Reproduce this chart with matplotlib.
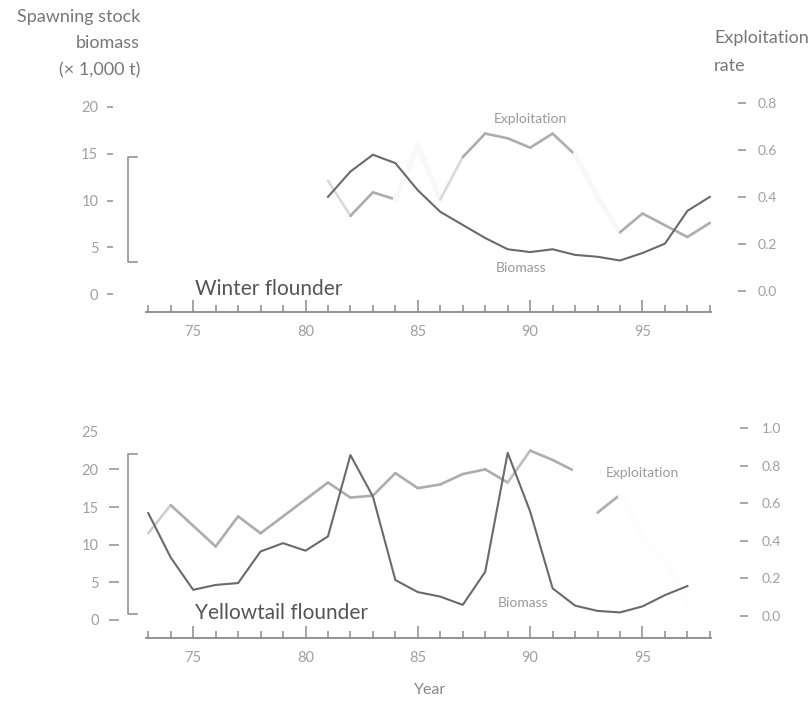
import numpy as np
import matplotlib
matplotlib.use("Agg")
import matplotlib.pyplot as plt
from matplotlib.collections import LineCollection
from matplotlib.ticker import MultipleLocator, FixedLocator
import matplotlib.transforms as mtransforms

plt.rcParams['font.family'] = ['Lato', 'DejaVu Sans']

# ---- Winter flounder ----
years_winter = [81, 82, 83, 84, 85, 86, 87, 88, 89, 90, 91, 92, 93, 94, 95, 96, 97, 98]
biomass_winter = [10.4, 13.1, 14.9, 14.0, 11.1, 8.8, 7.4, 6.0, 4.8, 4.5, 4.8, 4.2, 4.0, 3.6, 4.4, 5.4, 8.9, 10.4]
exploit_winter = [0.47, 0.32, 0.42, 0.39, 0.62, 0.39, 0.57, 0.67, 0.65, 0.61, 0.67, 0.58, 0.40, 0.25, 0.33, 0.28, 0.23, 0.29]

# ---- Yellowtail flounder ----
years_yellow = list(range(73, 98))
biomass_yellow = [14.2, 8.3, 4.0, 4.65, 4.9, 9.1, 10.2, 9.2, 11.1, 21.9, 16.4, 5.3, 3.7, 3.1, 2.0,
                  6.4, 22.2, 14.4, 4.2, 1.9, 1.2, 1.0, 1.8, 3.3, 4.5]
exploit_yellow = [0.44, 0.59, 0.48, 0.37, 0.53, 0.44, 0.53, 0.62, 0.71, 0.63, 0.64, 0.76, 0.68, 0.70,
                  0.755, 0.78, 0.71, 0.88, 0.83, 0.77, 0.55, 0.645, 0.42, 0.30, 0.06]

# print weight of each exploitation segment (1 = full ink, lower = worn print)
ink_winter = [0.45, 1, 1, 0.08, 0.08, 0.45, 1, 1, 1, 1, 1, 0.08, 0.08, 1, 1, 1, 1]
ink_yellow = [0.6, 1, 1, 1, 1, 1, 1, 1, 1, 1, 1, 1, 1, 1, 1, 1, 0.8, 1, 1, 0.0, 1, 0.03, 0.03, 0.03]

x_ticks = [75, 80, 85, 90, 95]
x_labels = ['75', '80', '85', '90', '95']

W, H = 811, 701
fig = plt.figure(figsize=(W / 100, H / 100), dpi=100)

BIO_C = '#6a6a6a'
EXP_C = np.array([0.68, 0.68, 0.68])
PAPER = np.array([1.0, 1.0, 1.0])
TICK_C = '#a0a0a0'
AX_C = '#8a8a8a'


def px_rect(left, top, right, bottom):
    return [left / W, 1 - bottom / H, (right - left) / W, (bottom - top) / H]


def exploit_line(ax, years, values, ink, lw=1.9):
    pts = np.column_stack([years, values])
    segs = [pts[i:i + 2] for i in range(len(pts) - 1)]
    cols = [tuple(PAPER + (EXP_C - PAPER) * k) for k in ink]
    widths = [lw if k > 0.3 else lw + 2.0 for k in ink]
    lc = LineCollection(segs, colors=cols, linewidths=widths, capstyle='round', joinstyle='round')
    ax.add_collection(lc)


def style_panel(ax, ax2, left_ticks, right_ticks, lpos, rpos):
    for s in ['top', 'right']:
        ax.spines[s].set_visible(False)
    ax.spines['left'].set_position(('outward', lpos[0]))
    ax.spines['left'].set_visible(False)
    ax.spines['bottom'].set_color(AX_C)
    ax.spines['bottom'].set_linewidth(1.3)
    ax.set_xlim(72.9, 98.05)
    ax.xaxis.set_major_locator(FixedLocator(x_ticks))
    ax.set_xticklabels(x_labels)
    ax.xaxis.set_minor_locator(MultipleLocator(1))
    ax.tick_params(axis='x', which='major', direction='in', length=9, width=1.1,
                   color=AX_C, labelcolor=TICK_C, labelsize=10.5, pad=9)
    ax.tick_params(axis='x', which='minor', direction='in', length=5, width=1.1, color=AX_C)
    ax.set_yticks(left_ticks)
    ax.set_yticklabels([str(v) for v in left_ticks])
    ax.tick_params(axis='y', direction='out', length=lpos[1], width=1.3, color=TICK_C,
                   labelcolor=TICK_C, labelsize=10.5, pad=lpos[2])

    for s in ['top', 'left', 'bottom']:
        ax2.spines[s].set_visible(False)
    ax2.spines['right'].set_position(('outward', rpos[0]))
    ax2.spines['right'].set_visible(False)
    ax2.set_yticks(right_ticks)
    ax2.set_yticklabels(['%.1f' % v for v in right_ticks])
    ax2.tick_params(axis='y', direction='out', length=rpos[1], width=1.3, color=TICK_C,
                    labelcolor=TICK_C, labelsize=10, pad=rpos[2])


def bracket(ax, y_top, y_bot):
    tr = mtransforms.blended_transform_factory(fig.transFigure, ax.transData)
    x0, x1 = 128 / W, 137 / W
    ax.plot([x1, x0, x0, x1], [y_top, y_top, y_bot, y_bot], color='#8a8a8a', lw=1.1,
            transform=tr, clip_on=False)


# ---------- top panel ----------
ax1 = fig.add_axes(px_rect(146, 97.6, 711, 312))
ax1b = ax1.twinx()
ax1.set_ylim(-1.9, 21.0)
ax1b.set_ylim(-0.089, 0.823)
exploit_line(ax1b, years_winter, exploit_winter, ink_winter)
ax1.plot(years_winter, biomass_winter, color=BIO_C, lw=1.5, solid_joinstyle='round')
ax1.set_zorder(ax1b.get_zorder() + 1)
ax1.patch.set_visible(False)
style_panel(ax1, ax1b, [0, 5, 10, 15, 20], [0.0, 0.2, 0.4, 0.6, 0.8],
            (24, 4.3, 6), (19.5, 5.8, 8))
bracket(ax1, 14.7, 3.4)
ax1.text(75.1, 0.6, 'Winter flounder', fontsize=15, color='#555555', va='center', ha='left')
ax1.text(90.0, 18.7, 'Exploitation', fontsize=10, color='#999999', ha='center', va='center')
ax1.text(89.6, 2.8, 'Biomass', fontsize=10, color='#999999', ha='center', va='center')

# ---------- bottom panel ----------
ax2 = fig.add_axes(px_rect(146, 425, 711, 638))
ax2b = ax2.twinx()
ax2.set_ylim(-2.4, 25.9)
ax2b.set_ylim(-0.117, 1.016)
exploit_line(ax2b, years_yellow, exploit_yellow, ink_yellow)
ax2.plot(years_yellow, biomass_yellow, color=BIO_C, lw=1.5, solid_joinstyle='round')
ax2.set_zorder(ax2b.get_zorder() + 1)
ax2.patch.set_visible(False)
style_panel(ax2, ax2b, [0, 5, 10, 15, 20, 25], [0.0, 0.2, 0.4, 0.6, 0.8, 1.0],
            (19.5, 7, 7.5), (21, 5.8, 10))
for t in ax2.yaxis.get_major_ticks():
    if t.get_loc() == 25:
        t.tick1line.set_visible(False)
bracket(ax2, 22.1, 0.8)
ax2.text(75.1, 0.9, 'Yellowtail flounder', fontsize=15, color='#555555', va='center', ha='left')
ax2.text(95.0, 19.5, 'Exploitation', fontsize=10, color='#999999', ha='center', va='center')
ax2.text(89.7, 2.3, 'Biomass', fontsize=10, color='#999999', ha='center', va='center')

# ---------- axis titles ----------
lab = dict(fontsize=13, color='#777777')
fig.text(140 / W, 1 - 17 / H, 'Spawning stock', ha='right', va='center', **lab)
fig.text(140 / W, 1 - 43 / H, 'biomass', ha='right', va='center', **lab)
fig.text(140 / W, 1 - 70 / H, '(× 1,000 t)', ha='right', va='center', **lab)
fig.text(714 / W, 1 - 38 / H, 'Exploitation', ha='left', va='center', **lab)
fig.text(714 / W, 1 - 66 / H, 'rate', ha='left', va='center', **lab)
fig.text(430 / W, 1 - 690 / H, 'Year', ha='center', va='center', fontsize=11.5, color='#888888')

fig.savefig('out.png', dpi=100, facecolor='white')
